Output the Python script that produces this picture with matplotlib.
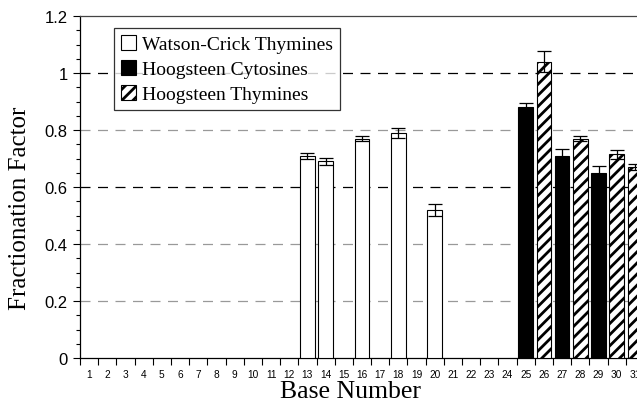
import matplotlib
matplotlib.use("Agg")
import matplotlib.pyplot as plt
import numpy as np
from matplotlib.patches import Patch

plt.rcParams['hatch.linewidth'] = 2.0

# Data
base_numbers = list(range(1, 32))
wc_pos = [13, 14, 16, 18, 20]
wc_val = [0.71, 0.69, 0.77, 0.79, 0.52]
wc_err = [0.01, 0.012, 0.01, 0.018, 0.022]
hc_pos = [25, 27, 29]
hc_val = [0.88, 0.71, 0.65]
hc_err = [0.015, 0.022, 0.023]
ht_pos = [26, 28, 30, 31]
ht_val = [1.04, 0.77, 0.715, 0.67]
ht_err = [0.037, 0.01, 0.015, 0.01]
legend_labels = ["Watson-Crick Thymines", "Hoogsteen Cytosines", "Hoogsteen Thymines"]

fig = plt.figure(figsize=(6.37, 4.02), dpi=100)
ax = fig.add_axes([80/637, 1-359/402, (644-80)/637, (359-17)/402])

W = 0.8
ekw = dict(ecolor='black', elinewidth=0.9, capsize=5, capthick=0.9)
ax.bar(wc_pos, wc_val, W, yerr=wc_err, color='white', edgecolor='black', linewidth=0.8, zorder=3, error_kw=ekw)
ax.bar(hc_pos, hc_val, W, yerr=hc_err, color='black', edgecolor='black', linewidth=0.8, zorder=3, error_kw=ekw)
ax.bar(ht_pos, ht_val, W, yerr=ht_err, color='white', edgecolor='black', hatch='///', linewidth=0.8, zorder=3, error_kw=ekw)

ax.set_xlim(0.5, 31.5)
ax.set_ylim(0, 1.2)

# grid lines
for y in [0.2, 0.4, 0.8]:
    ax.axhline(y, color='#999999', lw=0.9, dashes=(8, 6), zorder=1)
for y in [0.6, 1.0]:
    ax.axhline(y, color='black', lw=0.9, dashes=(8, 6), zorder=1)

# y ticks
ax.set_yticks(np.arange(0, 1.21, 0.2))
ax.set_yticklabels(['0', '0.2', '0.4', '0.6', '0.8', '1', '1.2'], fontsize=12, fontfamily='Liberation Sans')
ax.set_yticks(np.arange(0, 1.21, 0.05), minor=True)
ax.tick_params(axis='y', which='major', direction='out', length=5, width=0.8, pad=4)
ax.tick_params(axis='y', which='minor', direction='out', length=3, width=0.8)

# x ticks: boundaries as major, labels at centers
ax.set_xticks(np.arange(0.5, 32, 1.0))
ax.set_xticklabels([])
ax.set_xticks(base_numbers, minor=True)
ax.set_xticklabels([str(b) for b in base_numbers], minor=True, fontsize=7.3, fontfamily='Liberation Sans')
ax.tick_params(axis='x', which='major', direction='out', length=5, width=0.8)
ax.tick_params(axis='x', which='minor', length=0, pad=8)

for s in ax.spines.values():
    s.set_linewidth(0.9)
ax.spines['top'].set_color('#444444')

fig.text(20/637, 1-208/402, 'Fractionation Factor', rotation=90, ha='center', va='center',
         fontsize=18, fontfamily='Liberation Serif')
fig.text(350/637, 1-392/402, 'Base Number', ha='center', va='center',
         fontsize=18.5, fontfamily='Liberation Serif')

handles = [Patch(facecolor='white', edgecolor='black', lw=0.8),
           Patch(facecolor='black', edgecolor='black', lw=0.8),
           Patch(facecolor='white', edgecolor='black', hatch='///', lw=0.8)]
leg = ax.legend(handles, legend_labels, loc='upper left', bbox_to_anchor=((114-80)/564, 1-(29-17)/342),
                prop={'family': 'Liberation Serif', 'size': 14}, frameon=True, fancybox=False,
                edgecolor='black', handlelength=0.8, handleheight=0.8, handletextpad=0.3,
                labelspacing=0.35, borderpad=0.35, borderaxespad=0)
leg.get_frame().set_linewidth(0.9)

fig.savefig('out.png', dpi=100)
